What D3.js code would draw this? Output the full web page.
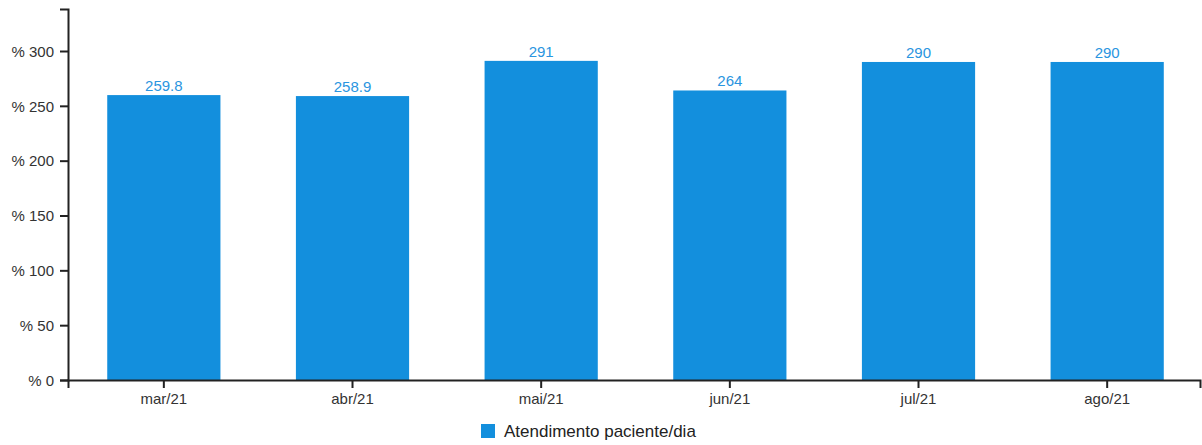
<!DOCTYPE html>
<html><head><meta charset="utf-8">
<script src="https://cdn.jsdelivr.net/npm/d3@7"></script>
<style>body{margin:0;background:#fff;font-family:"Liberation Sans",Arial,sans-serif;}</style>
</head><body><svg id="c" width="1202" height="445"></svg>
<script>
const categories = ["mar/21","abr/21","mai/21","jun/21","jul/21","ago/21"];
const values = [259.8, 258.9, 291, 264, 290, 290];
const labels = ["259.8","258.9","291","264","290","290"];
const yTicks = [0,50,100,150,200,250,300];
const seriesName = "Atendimento paciente/dia";

const svg = d3.select("#c");
const m = {l:68, r:2, t:9, b:65};
const W = 1202, H = 445;
const x = d3.scaleBand().domain(categories).range([m.l, W - m.r]).paddingInner(0.4).paddingOuter(0.2).align(0.52);
const y = d3.scaleLinear().domain([0, 338.3]).range([H - m.b, m.t]);
const color = "#138fdd";

svg.append("g").selectAll("rect").data(values).join("rect")
  .attr("x", (d,i)=>x(categories[i])).attr("width", x.bandwidth())
  .attr("y", d=>y(d)).attr("height", d=>y(0)-y(d)).attr("fill", color);

svg.append("g").selectAll("text").data(values).join("text")
  .attr("x", (d,i)=>x(categories[i]) + x.bandwidth()/2).attr("y", d=>y(d)-4)
  .attr("text-anchor","middle").attr("fill","#2a95e0").attr("font-size","15px")
  .text((d,i)=>labels[i]);

const ya = svg.append("g").attr("transform",`translate(${m.l},0)`)
  .call(d3.axisLeft(y).tickValues(yTicks).tickFormat(d=>"% "+d).tickSizeOuter(8).tickSize(8));
const xa = svg.append("g").attr("transform",`translate(0,${y(0)})`)
  .call(d3.axisBottom(x).tickSizeOuter(8).tickSize(8));
[ya, xa].forEach(a=>{
  a.selectAll("path,line").attr("stroke","#222").attr("stroke-width",2);
  a.selectAll("text").attr("fill","#333").attr("font-size","15px").attr("font-family","Liberation Sans, Arial, sans-serif");
});
ya.selectAll("text").attr("dy","0.35em").attr("x",-14);
xa.selectAll("text").attr("y",13);

const lg = svg.append("g");
lg.append("rect").attr("x",481).attr("y",424).attr("width",14).attr("height",14).attr("fill",color);
lg.append("text").attr("x",504).attr("y",437).attr("font-size","17px").attr("fill","#222").text(seriesName);
</script></body></html>
